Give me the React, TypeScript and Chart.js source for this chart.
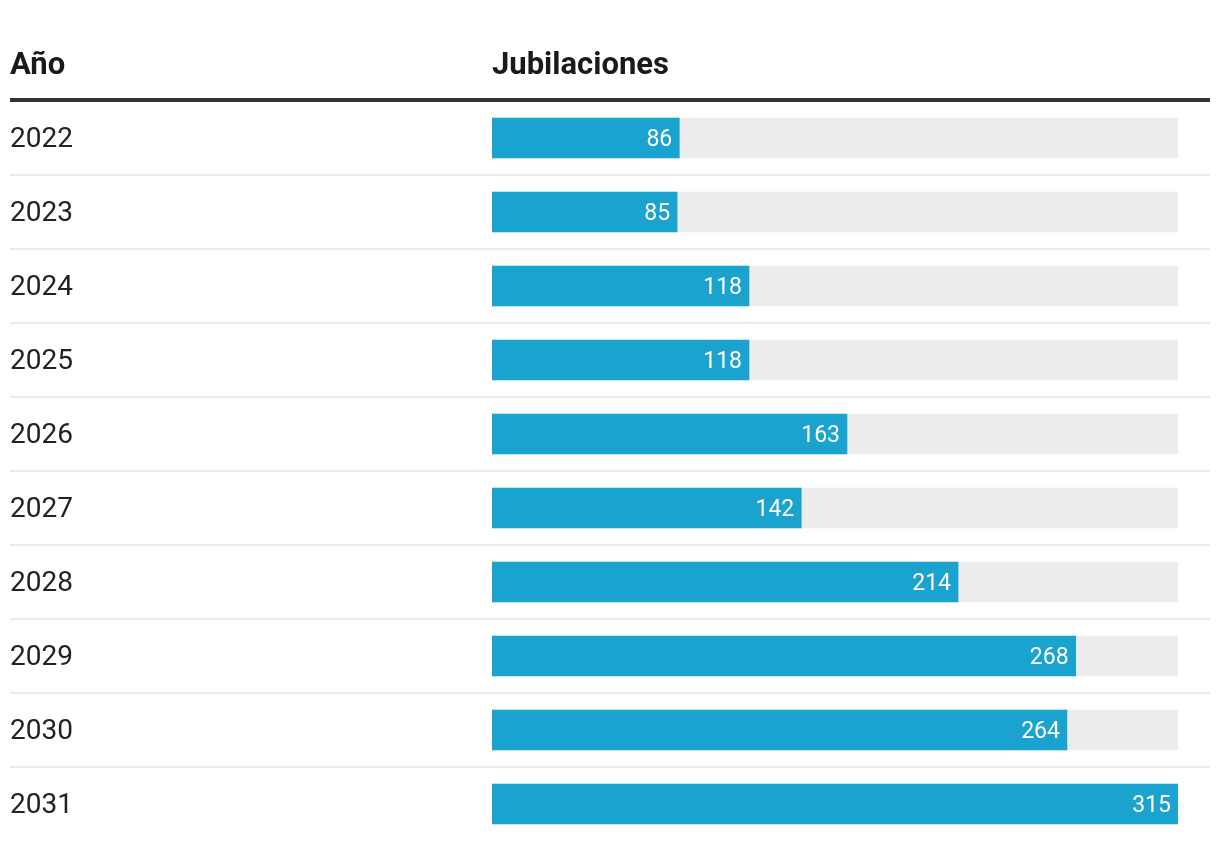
import React, { useEffect, useRef } from "react";
import { Chart, registerables } from "chart.js";

Chart.register(...registerables);

const years = ["2022", "2023", "2024", "2025", "2026", "2027", "2028", "2029", "2030", "2031"];
const jubilaciones = [86, 85, 118, 118, 163, 142, 214, 268, 264, 315];
const headers = ["Año", "Jubilaciones"];

const BLUE = "#1aa3cf";
const TRACK = "#ececec";
const FONT = "Roboto, 'Noto Sans', sans-serif";

const tablePlugin = {
  id: "tablePlugin",
  beforeDatasetsDraw(chart: any) {
    const { ctx, chartArea } = chart;
    const yScale = chart.scales.y;
    ctx.save();
    // headers
    ctx.fillStyle = "#1a1a1a";
    ctx.font = `bold 31px ${FONT}`;
    ctx.textBaseline = "alphabetic";
    ctx.textAlign = "left";
    ctx.fillText(headers[0], 10, 74);
    ctx.fillText(headers[1], chartArea.left, 74);
    // thick rule
    ctx.fillStyle = "#333333";
    ctx.fillRect(10, 98, 1200, 4);
    // separators
    ctx.fillStyle = "#ebebeb";
    for (let i = 0; i < years.length - 1; i++) {
      const y = (yScale.getPixelForValue(i) + yScale.getPixelForValue(i + 1)) / 2;
      ctx.fillRect(10, Math.round(y) - 1, 1200, 2);
    }
    // year labels
    ctx.fillStyle = "#222222";
    ctx.font = `28px ${FONT}`;
    ctx.textBaseline = "middle";
    years.forEach((yr, i) => {
      ctx.fillText(yr, 10, yScale.getPixelForValue(i) + 2);
    });
    ctx.restore();
  },
  afterDatasetsDraw(chart: any) {
    const { ctx } = chart;
    const meta = chart.getDatasetMeta(0);
    ctx.save();
    ctx.fillStyle = "#ffffff";
    ctx.font = `23px ${FONT}`;
    ctx.textAlign = "right";
    ctx.textBaseline = "middle";
    meta.data.forEach((bar: any, i: number) => {
      ctx.fillText(String(jubilaciones[i]), bar.x - 7, bar.y + 2);
    });
    ctx.restore();
  },
};

export default function App() {
  const canvasRef = useRef<HTMLCanvasElement | null>(null);

  useEffect(() => {
    if (!canvasRef.current) return;
    const maxVal = Math.max(...jubilaciones);
    const chart = new Chart(canvasRef.current, {
      type: "bar",
      data: {
        labels: years,
        datasets: [
          {
            label: "Jubilaciones",
            data: jubilaciones,
            backgroundColor: BLUE,
            barThickness: 40,
            grouped: false,
          } as any,
          {
            label: "track",
            data: years.map(() => maxVal),
            backgroundColor: TRACK,
            barThickness: 40,
            grouped: false,
          } as any,
        ],
      },
      options: {
        indexAxis: "y",
        responsive: false,
        animation: false,
        layout: { padding: { left: 492, right: 42, top: 101, bottom: 9 } },
        scales: {
          x: { display: false, min: 0, max: maxVal },
          y: { display: false },
        },
        plugins: {
          legend: { display: false },
          tooltip: { enabled: false },
        },
      },
      plugins: [tablePlugin],
    });
    return () => chart.destroy();
  }, []);

  return (
    <div style={{ position: "absolute", left: 0, top: 0, width: 1220, height: 850, background: "#fff" }}>
      <canvas ref={canvasRef} width={1220} height={850} />
    </div>
  );
}
